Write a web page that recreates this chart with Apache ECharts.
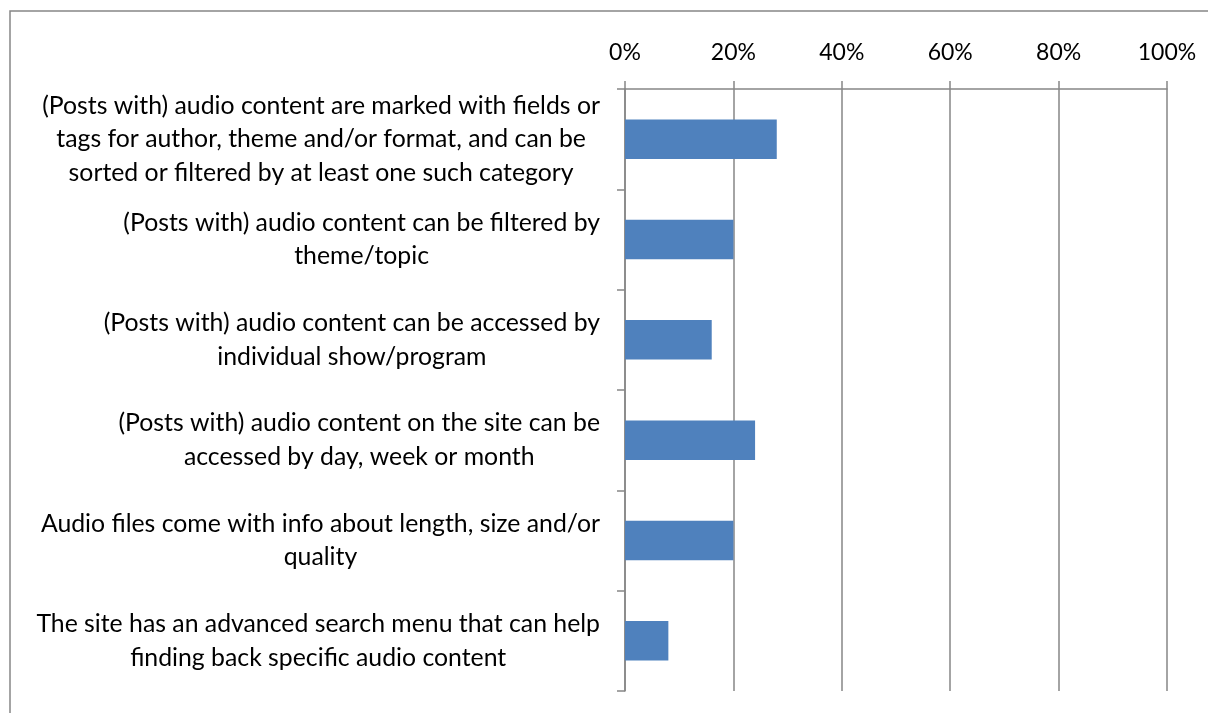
<!DOCTYPE html>
<html>
<head>
<meta charset="utf-8">
<script src="https://cdn.jsdelivr.net/npm/echarts@6/dist/echarts.min.js"></script>
<style>
  html, body { margin: 0; padding: 0; background: #fff; }
  #chart { width: 1208px; height: 713px; }
</style>
</head>
<body>
<div id="chart"></div>
<script>
// Feature categories (top to bottom) and share of sites offering each
var categories = [
  "(Posts with) audio content are marked with fields or\ntags for author, theme and/or format, and can be\nsorted or filtered by at least one such category",
  "(Posts with) audio content can be filtered by\ntheme/topic",
  "(Posts with) audio content can be accessed by\nindividual show/program",
  "(Posts with) audio content on the site can be\naccessed by day, week or month",
  "Audio files come with info about length, size and/or\nquality",
  "The site has an advanced search menu that can help\nfinding back specific audio content"
];
var shares = [28, 20, 16, 24, 20, 8];
var tickValues = [0, 20, 40, 60, 80, 100];

var fontFamily = "Lato, 'Open Sans', sans-serif";
var gridColor = "#868686";

var chart = echarts.init(document.getElementById("chart"), null, { renderer: "canvas" });
chart.setOption({
  animation: false,
  backgroundColor: "#ffffff",
  grid: { left: 625, right: 41, top: 89, bottom: 22, containLabel: false },
  graphic: [{
    type: "rect",
    shape: { x: 10, y: 11, width: 1400, height: 900 },
    style: { fill: "none", stroke: gridColor, lineWidth: 1.5 },
    silent: true
  }],
  xAxis: {
    type: "value",
    position: "top",
    min: tickValues[0],
    max: tickValues[tickValues.length - 1],
    interval: 20,
    axisLine: { show: true, lineStyle: { color: gridColor, width: 1.5 } },
    axisTick: { show: true, length: 8, lineStyle: { color: gridColor, width: 1.5 } },
    splitLine: { show: true, lineStyle: { color: gridColor, width: 1.5 } },
    axisLabel: {
      margin: 25,
      color: "#000",
      fontSize: 23,
      fontFamily: fontFamily,
      formatter: function (v) { return v + "%"; }
    }
  },
  yAxis: {
    type: "category",
    inverse: true,
    data: categories,
    axisLine: { show: true, lineStyle: { color: gridColor, width: 1.5 } },
    axisTick: { show: true, length: 8, lineStyle: { color: gridColor, width: 1.5 } },
    splitLine: { show: false },
    axisLabel: {
      margin: 25,
      align: "right",
      // block sits right of the axis gap, each line centred inside it
      formatter: function (v) { return "{c|" + v + "}"; },
      rich: {
        c: {
          align: "center",
          color: "#000",
          fontSize: 24.8,
          lineHeight: 33.5,
          fontFamily: fontFamily
        }
      }
    }
  },
  series: [{
    type: "bar",
    data: shares,
    barCategoryGap: "60.6%",
    itemStyle: { color: "#4F81BD" }
  }]
});
</script>
</body>
</html>
